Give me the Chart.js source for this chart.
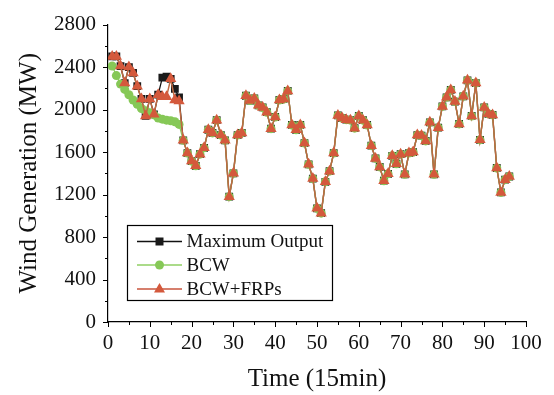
<!DOCTYPE html>
<html>
<head>
<meta charset="utf-8">
<script src="https://cdn.jsdelivr.net/npm/chart.js@4/dist/chart.umd.min.js"></script>
<style>
  html, body { margin: 0; padding: 0; background: #fff; }
  #wrap { width: 554px; height: 395px; }
</style>
</head>
<body>
<div id="wrap"><canvas id="windChart" width="554" height="395"></canvas></div>
<script>
// time steps (15 min each)
const timeSteps = [1,2,3,4,5,6,7,8,9,10,11,12,13,14,15,16,17,18,19,20,21,22,23,24,25,26,27,28,29,30,
  31,32,33,34,35,36,37,38,39,40,41,42,43,44,45,46,47,48,49,50,51,52,53,54,55,56,57,58,59,60,
  61,62,63,64,65,66,67,68,69,70,71,72,73,74,75,76,77,78,79,80,81,82,83,84,85,86,87,88,89,90,
  91,92,93,94,95,96];

const bcwFrps = [2500,2500,2410,2250,2400,2345,2220,2100,1940,2100,1955,2140,2120,2120,2290,2090,2080,1710,1590,1515,
  1470,1580,1640,1810,1780,1900,1760,1710,1180,1400,1760,1780,2130,2085,2105,2040,2020,1975,1820,1930,
  2090,2100,2175,1855,1810,1855,1685,1485,1350,1070,1025,1320,1420,1590,1945,1920,1905,1900,1825,1940,
  1900,1855,1660,1540,1460,1330,1395,1565,1490,1580,1390,1590,1600,1760,1755,1705,1880,1390,1830,2030,
  2115,2185,2075,1865,2125,2275,1940,2250,1715,2020,1960,1950,1450,1220,1340,1370];

const maxOutput = [2500,2500,2410,2250,2400,2345,2220,2100,1940,2100,1955,2140,2300,2310,2290,2195,2115,1710,1590,1515,
  1470,1580,1640,1810,1780,1900,1760,1710,1180,1400,1760,1780,2130,2085,2105,2040,2020,1975,1820,1930,
  2090,2100,2175,1855,1810,1855,1685,1485,1350,1070,1025,1320,1420,1590,1945,1920,1905,1900,1825,1940,
  1900,1855,1660,1540,1460,1330,1395,1565,1490,1580,1390,1590,1600,1760,1755,1705,1880,1390,1830,2030,
  2115,2185,2075,1865,2125,2275,1940,2250,1715,2020,1960,1950,1450,1220,1340,1370];

const bcw = [2410,2320,2240,2190,2140,2090,2050,2010,1990,1970,1950,1920,1910,1900,1895,1885,1860,1710,1590,1515,
  1470,1580,1640,1810,1780,1900,1760,1710,1180,1400,1760,1780,2130,2085,2105,2040,2020,1975,1820,1930,
  2090,2100,2175,1855,1810,1855,1685,1485,1350,1070,1025,1320,1420,1590,1945,1920,1905,1900,1825,1940,
  1900,1855,1660,1540,1460,1330,1395,1565,1490,1580,1390,1590,1600,1760,1755,1705,1880,1390,1830,2030,
  2115,2185,2075,1865,2125,2275,1940,2250,1715,2020,1960,1950,1450,1220,1340,1370];

const seriesNames = ['Maximum Output', 'BCW', 'BCW+FRPs'];
const xTicks = [0,10,20,30,40,50,60,70,80,90,100];
const yTicks = [0,400,800,1200,1600,2000,2400,2800];

const FONT = "'Liberation Serif', 'Times New Roman', serif";

function toPoints(vals) {
    return timeSteps.map((t, i) => ({ x: t, y: vals[i] }));
}

// draws tick marks (major + minor) and the custom legend box
const decorPlugin = {
    id: 'decor',
    afterDraw(chart) {
        const ctx = chart.ctx;
        const xs = chart.scales.x, ys = chart.scales.y;
        const area = chart.chartArea;
        ctx.save();
        ctx.strokeStyle = '#000';
        ctx.lineWidth = 1;

        // y ticks, outward
        for (let v = 0; v <= 2800; v += 200) {
            const py = Math.round(ys.getPixelForValue(v)) + 0.5;
            const len = (v % 400 === 0) ? 5 : 3;
            ctx.beginPath();
            ctx.moveTo(area.left - len, py);
            ctx.lineTo(area.left, py);
            ctx.stroke();
        }
        // x ticks, outward
        for (let v = 0; v <= 100; v += 5) {
            const px = Math.round(xs.getPixelForValue(v)) + 0.5;
            const len = (v % 10 === 0) ? 5 : 3;
            ctx.beginPath();
            ctx.moveTo(px, area.bottom);
            ctx.lineTo(px, area.bottom + len);
            ctx.stroke();
        }

        // legend
        const bx = 127.5, by = 225.5, bw = 205, bh = 75;
        ctx.fillStyle = '#fff';
        ctx.fillRect(bx, by, bw, bh);
        ctx.lineWidth = 1.2;
        ctx.strokeRect(bx, by, bw, bh);
        const rows = [241.5, 265, 289];
        chart.data.datasets.forEach((ds, i) => {
            const y = rows[i];
            ctx.strokeStyle = ds.legendLine;
            ctx.lineWidth = 1.3;
            ctx.beginPath();
            ctx.moveTo(137, y);
            ctx.lineTo(182, y);
            ctx.stroke();
            ctx.fillStyle = ds.pointBackgroundColor;
            const mx = 159.5;
            ctx.beginPath();
            if (ds.pointStyle === 'rect') {
                ctx.rect(mx - 4, y - 4, 8, 8);
            } else if (ds.pointStyle === 'circle') {
                ctx.arc(mx, y, 4.5, 0, Math.PI * 2);
            } else {
                ctx.moveTo(mx, y - 6);
                ctx.lineTo(mx + 5.5, y + 3.5);
                ctx.lineTo(mx - 5.5, y + 3.5);
                ctx.closePath();
            }
            ctx.fill();
            ctx.fillStyle = '#111';
            ctx.font = '19px ' + FONT;
            ctx.textBaseline = 'middle';
            ctx.textAlign = 'left';
            ctx.fillText(ds.label, 186.5, y + 1);
        });
        ctx.restore();
    }
};

new Chart(document.getElementById('windChart'), {
    type: 'line',
    data: {
        datasets: [
            {
                label: seriesNames[0],
                data: toPoints(maxOutput),
                borderColor: '#111',
                legendLine: '#111',
                borderWidth: 1.3,
                pointStyle: 'rect',
                pointRadius: 5.5,
                pointBackgroundColor: '#1a1a1a',
                pointBorderColor: '#1a1a1a',
                pointBorderWidth: 0,
                tension: 0,
                order: 3
            },
            {
                label: seriesNames[1],
                data: toPoints(bcw),
                borderColor: '#8fcf63',
                legendLine: '#8fcf63',
                borderWidth: 1.3,
                pointStyle: 'circle',
                pointRadius: 4.5,
                pointBackgroundColor: '#86c857',
                pointBorderColor: '#86c857',
                pointBorderWidth: 0,
                tension: 0,
                order: 2
            },
            {
                label: seriesNames[2],
                data: toPoints(bcwFrps),
                borderColor: '#bf6a42',
                legendLine: '#c8553d',
                borderWidth: 1.5,
                pointStyle: 'triangle',
                pointRadius: 6.5,
                pointBackgroundColor: '#d4593c',
                pointBorderColor: '#d4593c',
                pointBorderWidth: 0,
                tension: 0,
                order: 1
            }
        ]
    },
    options: {
        responsive: false,
        animation: false,
        events: [],
        layout: { padding: { left: 0, top: 17, right: 28, bottom: 0 } },
        plugins: {
            legend: { display: false },
            tooltip: { enabled: false }
        },
        scales: {
            x: {
                type: 'linear',
                min: 0,
                max: 100,
                afterFit(scale) { scale.height = 73; },
                afterBuildTicks(scale) { scale.ticks = xTicks.map(v => ({ value: v })); },
                grid: { display: false, drawTicks: false },
                border: { display: true, color: '#000', width: 1.2 },
                ticks: {
                    color: '#111',
                    font: { family: FONT, size: 21 },
                    padding: 9,
                    maxRotation: 0,
                    autoSkip: false,
                    callback: v => String(v)
                },
                title: {
                    display: true,
                    text: 'Time (15min)',
                    color: '#111',
                    font: { family: FONT, size: 25, lineHeight: 1.2 },
                    padding: { top: 0, bottom: 1 }
                }
            },
            y: {
                type: 'linear',
                min: 0,
                max: 2800,
                afterFit(scale) { scale.width = 108; },
                afterBuildTicks(scale) { scale.ticks = yTicks.map(v => ({ value: v })); },
                grid: { display: false, drawTicks: false },
                border: { display: true, color: '#000', width: 1.2 },
                ticks: {
                    color: '#111',
                    font: { family: FONT, size: 21 },
                    padding: 12,
                    callback: v => String(v)
                },
                title: {
                    display: true,
                    text: 'Wind Generation (MW)',
                    color: '#111',
                    font: { family: FONT, size: 25, lineHeight: 1.2 },
                    padding: { top: 14, bottom: 0 }
                }
            }
        }
    },
    plugins: [decorPlugin]
});
</script>
</body>
</html>
